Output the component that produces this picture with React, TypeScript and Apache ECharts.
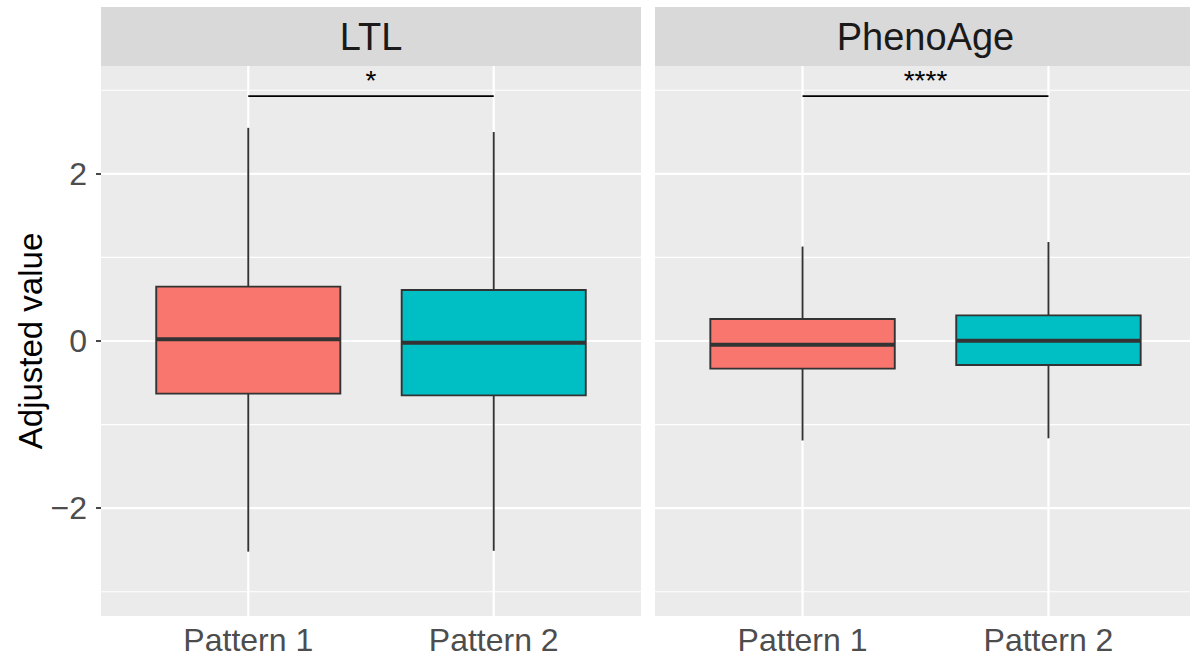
import React, { useEffect, useRef } from "react";
import * as echarts from "echarts";

const categories = ["Pattern 1", "Pattern 2"];
const panels = ["LTL", "PhenoAge"];
// [low whisker, Q1, median, Q3, high whisker] per category
const ltlStats = [
  [-2.52, -0.63, 0.02, 0.65, 2.55],
  [-2.51, -0.65, -0.02, 0.61, 2.5],
];
const phenoStats = [
  [-1.19, -0.33, -0.044, 0.263, 1.13],
  [-1.164, -0.287, 0.004, 0.307, 1.184],
];
const fills = ["#F8766D", "#00BFC4"];
const yTicks = [-2, 0, 2];
const yMinor = [-3, -1, 1, 3];
const xTicks = [1, 2];
const sigLabels = ["*", "****"];
const sigY = [2.93, 2.93];

const FONT = "'Liberation Sans', Arial, Helvetica, sans-serif";
const Y_MIN = -3.29;
const Y_MAX = 3.29;

export default function App() {
  const ref = useRef<HTMLDivElement>(null);

  useEffect(() => {
    document.body.style.margin = "0";
    if (!ref.current) return;
    const chart = echarts.init(ref.current, undefined, { renderer: "svg" });

    // panel 2 is cropped at the right edge of the image
    const grids = [
      { left: 101, top: 66, width: 540, height: 550, xMax: 2.6, full: 540 },
      { left: 655, top: 66, width: 535, height: 550, xMax: 0.4 + (535 / 541) * 2.2, full: 541 },
    ];

    const xAxes = grids.map((g, i) => ({
      type: "value",
      gridIndex: i,
      min: 0.4,
      max: g.xMax,
      axisLine: { show: false },
      splitLine: { show: false },
      axisTick: {
        show: true,
        customValues: xTicks,
        length: 5,
        lineStyle: { color: "#333333", width: 1.8 },
      },
      axisLabel: {
        show: true,
        customValues: xTicks,
        formatter: (v: number) => categories[Math.round(v) - 1] ?? "",
        color: "#4D4D4D",
        fontSize: 32,
        fontFamily: FONT,
        margin: 8,
      },
    }));

    const yAxes = grids.map((_, i) => ({
      type: "value",
      gridIndex: i,
      min: Y_MIN,
      max: Y_MAX,
      axisLine: { show: false },
      splitLine: { show: false },
      name: i === 0 ? "Adjusted value" : "",
      nameLocation: "middle",
      nameGap: 52,
      nameTextStyle: { color: "#000000", fontSize: 33, fontFamily: FONT },
      axisTick: {
        show: i === 0,
        customValues: yTicks,
        length: 5,
        lineStyle: { color: "#333333", width: 1.8 },
      },
      axisLabel: {
        show: i === 0,
        customValues: yTicks,
        formatter: (v: number) => (v < 0 ? "\u2212" + Math.abs(v) : String(v)),
        color: "#4D4D4D",
        fontSize: 32,
        fontFamily: FONT,
        margin: 14,
      },
    }));

    const series: any[] = [];
    grids.forEach((_, i) => {
      const hData = [
        ...yMinor.map((v) => [1, v, 0]),
        ...yTicks.map((v) => [1, v, 1]),
      ];
      series.push({
        type: "custom",
        xAxisIndex: i,
        yAxisIndex: i,
        silent: true,
        z: 1,
        encode: { x: 0, y: 1 },
        data: hData,
        renderItem: (params: any, api: any) => {
          const cs = params.coordSys;
          const p = api.coord([1, api.value(1)]);
          const major = api.value(2) === 1;
          return {
            type: "line",
            shape: { x1: cs.x, y1: p[1], x2: cs.x + cs.width, y2: p[1] },
            style: { stroke: "#FFFFFF", lineWidth: major ? 2.2 : 1.1 },
          };
        },
      });
      series.push({
        type: "custom",
        xAxisIndex: i,
        yAxisIndex: i,
        silent: true,
        z: 1,
        encode: { x: 0, y: 1 },
        data: xTicks.map((v) => [v, 0]),
        renderItem: (params: any, api: any) => {
          const cs = params.coordSys;
          const p = api.coord([api.value(0), 0]);
          return {
            type: "line",
            shape: { x1: p[0], y1: cs.y, x2: p[0], y2: cs.y + cs.height },
            style: { stroke: "#FFFFFF", lineWidth: 2.2 },
          };
        },
      });
      const stats = i === 0 ? ltlStats : phenoStats;
      series.push({
        type: "custom",
        xAxisIndex: i,
        yAxisIndex: i,
        z: 3,
        encode: { x: 0, y: [1, 2, 3, 4, 5] },
        data: stats.map((s, k) => [k + 1, ...s]),
        renderItem: (params: any, api: any) => {
          const x = api.value(0);
          const lo = api.value(1);
          const q1 = api.value(2);
          const med = api.value(3);
          const q3 = api.value(4);
          const hi = api.value(5);
          const hw = 0.375;
          const tl = api.coord([x - hw, q3]);
          const br = api.coord([x + hw, q1]);
          const pHi = api.coord([x, hi]);
          const pLo = api.coord([x, lo]);
          const pMed = api.coord([x, med]);
          const stroke = "#333333";
          return {
            type: "group",
            children: [
              {
                type: "line",
                shape: { x1: pHi[0], y1: pHi[1], x2: pHi[0], y2: tl[1] },
                style: { stroke, lineWidth: 1.9 },
              },
              {
                type: "line",
                shape: { x1: pLo[0], y1: br[1], x2: pLo[0], y2: pLo[1] },
                style: { stroke, lineWidth: 1.9 },
              },
              {
                type: "rect",
                shape: {
                  x: tl[0],
                  y: tl[1],
                  width: br[0] - tl[0],
                  height: br[1] - tl[1],
                },
                style: { fill: fills[params.dataIndex], stroke, lineWidth: 1.9 },
              },
              {
                type: "line",
                shape: { x1: tl[0], y1: pMed[1], x2: br[0], y2: pMed[1] },
                style: { stroke, lineWidth: 4 },
              },
            ],
          };
        },
      });
      series.push({
        type: "custom",
        xAxisIndex: i,
        yAxisIndex: i,
        z: 4,
        silent: true,
        encode: { x: [0, 1], y: 2 },
        data: [[1, 2, sigY[i]]],
        renderItem: (params: any, api: any) => {
          const a = api.coord([api.value(0), api.value(2)]);
          const b = api.coord([api.value(1), api.value(2)]);
          return {
            type: "group",
            children: [
              {
                type: "line",
                shape: { x1: a[0], y1: a[1], x2: b[0], y2: b[1] },
                style: { stroke: "#000000", lineWidth: 1.8 },
              },
              {
                type: "text",
                x: (a[0] + b[0]) / 2,
                y: a[1] - 2,
                style: {
                  text: sigLabels[i],
                  fill: "#000000",
                  fontSize: 28,
                  fontFamily: FONT,
                  align: "center",
                  verticalAlign: "bottom",
                },
              },
            ],
          };
        },
      });
    });

    const graphic: any[] = [];
    grids.forEach((g, i) => {
      graphic.push({
        type: "rect",
        shape: { x: g.left, y: 7, width: g.width, height: 59 },
        style: { fill: "#D9D9D9" },
        silent: true,
        z: 0,
      });
      graphic.push({
        type: "text",
        x: g.left + g.full / 2,
        y: 37,
        style: {
          text: panels[i],
          fill: "#1A1A1A",
          fontSize: 38,
          fontFamily: FONT,
          align: "center",
          verticalAlign: "middle",
        },
        silent: true,
        z: 1,
      });
    });

    chart.setOption({
      animation: false,
      backgroundColor: "#FFFFFF",
      grid: grids.map((g) => ({
        left: g.left,
        top: g.top,
        width: g.width,
        height: g.height,
        show: true,
        backgroundColor: "#EBEBEB",
        borderWidth: 0,
        containLabel: false,
      })),
      xAxis: xAxes,
      yAxis: yAxes,
      series,
      graphic,
    });

    return () => chart.dispose();
  }, []);

  return <div ref={ref} style={{ width: 1190, height: 659 }} />;
}
